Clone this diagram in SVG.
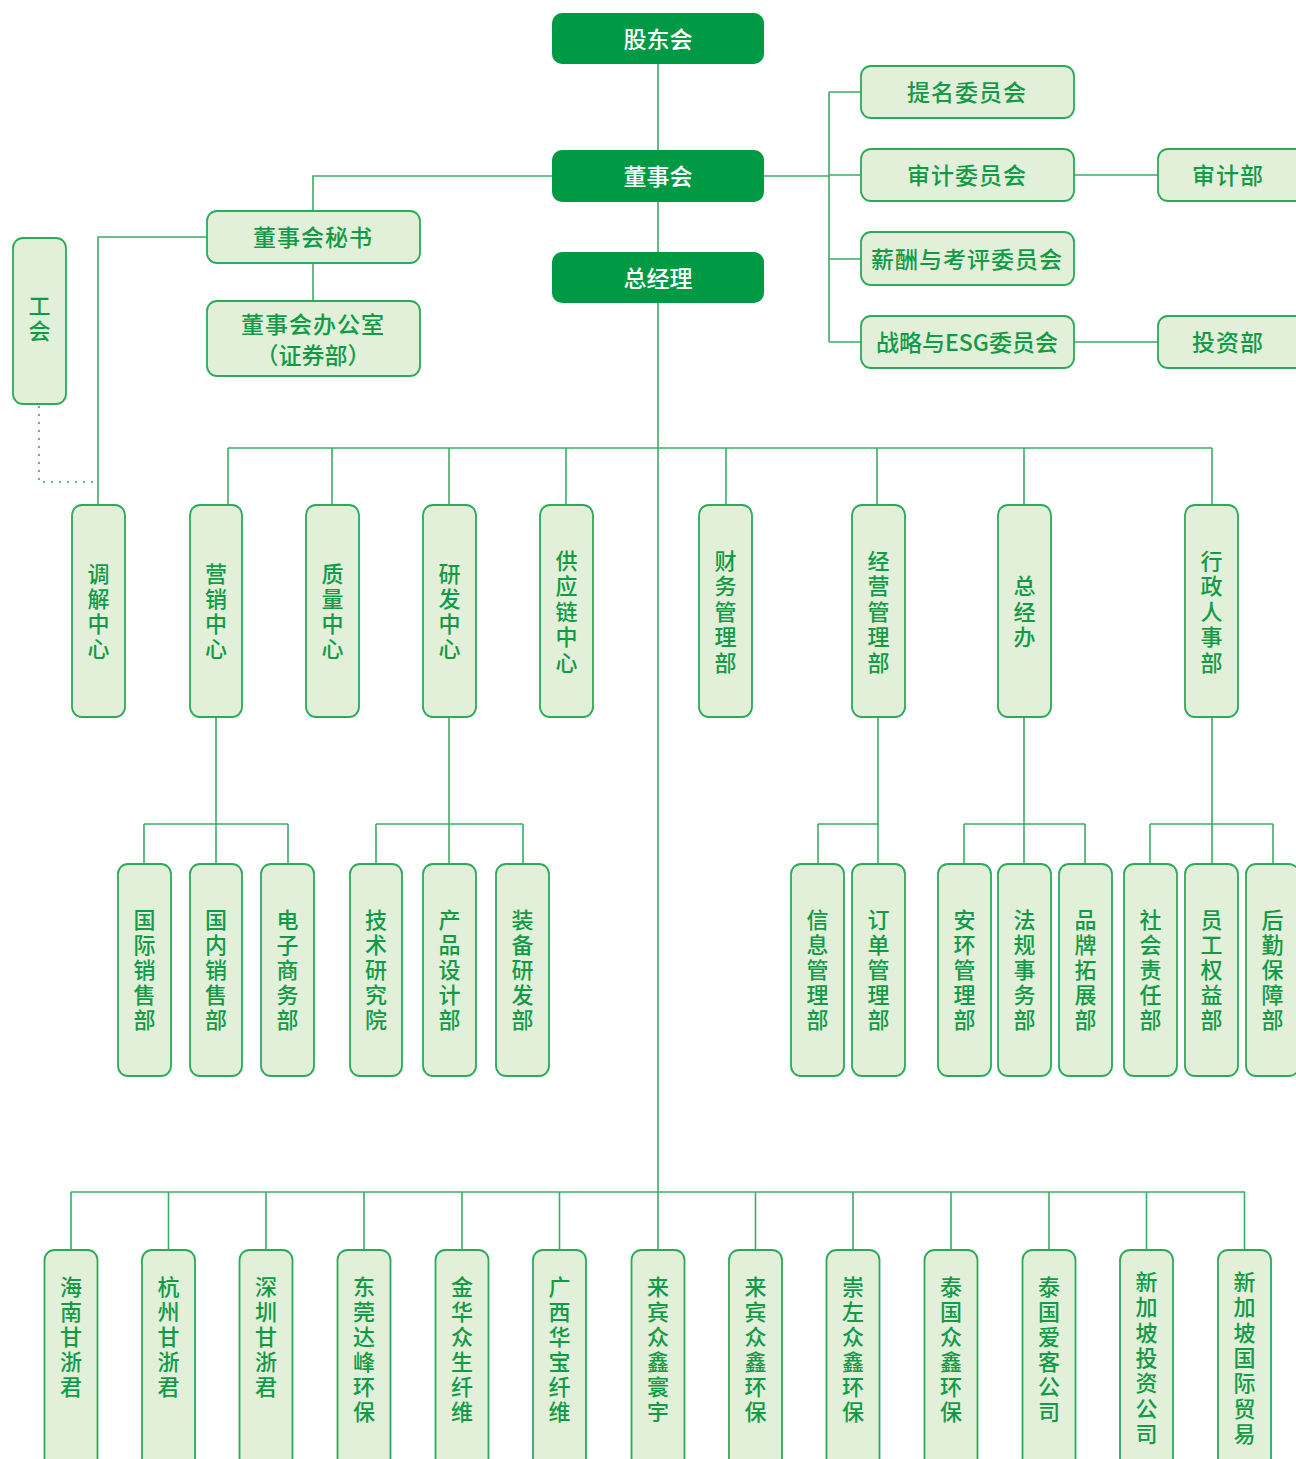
<svg xmlns="http://www.w3.org/2000/svg" width="1296" height="1459" viewBox="0 0 1296 1459">
<style>
.dk{fill:#009A44;}
.lt{fill:#E2EFD9;stroke:#2BAA5A;stroke-width:1.8;}
.ln{fill:none;stroke:#3AAE66;stroke-width:1.6;}
.dot{fill:none;stroke:#2BAA5A;stroke-width:1.6;stroke-dasharray:2 6;}
text{font-family:"Noto Sans CJK SC","Noto Sans",sans-serif;dominant-baseline:central;text-anchor:middle;}
.wt{fill:#FFFFFF;font-size:23px;font-weight:500;}
.gt{fill:#129B47;font-size:23px;font-weight:500;}
.vt{fill:#129B47;font-size:22px;font-weight:500;}
</style>
<rect width="1296" height="1459" fill="#FFFFFF"/>
<g id="connectors">
<path class="ln" d="M658,64V150M658,202V252M658,303V1250"/>
<path class="ln" d="M764,176H829M829,92V342M829,92H861M829,175H861M829,259H861M829,342H861"/>
<path class="ln" d="M1074,175H1158M1074,342H1158"/>
<path class="ln" d="M552,176H313V211M313,263V301M207,237H98V505"/>
<path class="dot" d="M39,406V482H93"/>
<path class="ln" d="M228,448H1212M228,448V505M332,448V505M449,448V505M566,448V505M726,448V505M877,448V505M1024,448V505M1212,448V505"/>
<path class="ln" d="M216,717V864M144,824H288M144,824V864M288,824V864"/>
<path class="ln" d="M449,717V864M376,824H523M376,824V864M523,824V864"/>
<path class="ln" d="M878,717V864M818,824H878M818,824V864"/>
<path class="ln" d="M1024,717V864M964,824H1085M964,824V864M1085,824V864"/>
<path class="ln" d="M1212,717V864M1150,824H1273M1150,824V864M1273,824V864"/>
<path class="ln" d="M71,1192H1245M71,1192V1250M168.5,1192V1250M266,1192V1250M364,1192V1250M462,1192V1250M559.5,1192V1250M755.5,1192V1250M853,1192V1250M951,1192V1250M1049,1192V1250M1146.5,1192V1250M1244.5,1192V1250"/>
</g>
<g id="n-gudonghui"><rect class="dk" x="552" y="13" width="212" height="51" rx="10"/><text class="wt" x="658" y="37.5">股东会</text></g>
<g id="n-dongshihui"><rect class="dk" x="552" y="150" width="212" height="52" rx="10"/><text class="wt" x="658" y="174.5">董事会</text></g>
<g id="n-zongjingli"><rect class="dk" x="552" y="252" width="212" height="51" rx="10"/><text class="wt" x="658" y="276.5">总经理</text></g>
<g id="n-timing"><rect class="lt" x="861" y="66" width="213" height="52" rx="10"/><text class="gt" x="967" y="90.5" letter-spacing="1">提名委员会</text></g>
<g id="n-shenji"><rect class="lt" x="861" y="149" width="213" height="52" rx="10"/><text class="gt" x="967" y="173.5" letter-spacing="1">审计委员会</text></g>
<g id="n-xinchou"><rect class="lt" x="861" y="232" width="213" height="53" rx="10"/><text class="gt" x="967" y="257.5" letter-spacing="1">薪酬与考评委员会</text></g>
<g id="n-zhanlue"><rect class="lt" x="861" y="316" width="213" height="52" rx="10"/><text class="gt" x="967" y="340.5">战略与ESG委员会</text></g>
<g id="n-shenjibu"><rect class="lt" x="1158" y="149" width="150" height="52" rx="10"/><text class="gt" x="1228" y="173.5" letter-spacing="1">审计部</text></g>
<g id="n-touzibu"><rect class="lt" x="1158" y="316" width="150" height="52" rx="10"/><text class="gt" x="1228" y="340.5" letter-spacing="1">投资部</text></g>
<g id="n-mishu"><rect class="lt" x="207" y="211" width="213" height="52" rx="10"/><text class="gt" x="313" y="235.5" letter-spacing="1">董事会秘书</text></g>
<g id="n-bangongshi"><rect class="lt" x="207" y="301" width="213" height="75" rx="10"/><text class="gt" x="313" y="322.5" letter-spacing="1">董事会办公室</text><text class="gt" x="313" y="353.5">（证券部）</text></g>
<g id="n-gonghui"><rect class="lt" x="13" y="238" width="53" height="166" rx="10"/><text class="vt"><tspan x="39.5" y="304">工</tspan><tspan x="39.5" y="329">会</tspan></text></g>

<g id="n-tiaojie"><rect class="lt" x="72" y="505" width="53" height="212" rx="10"/><text class="vt"><tspan x="98.5" y="571.5">调</tspan><tspan x="98.5" y="596.5">解</tspan><tspan x="98.5" y="621.5">中</tspan><tspan x="98.5" y="646.5">心</tspan></text></g>
<g id="n-yingxiao"><rect class="lt" x="190" y="505" width="52" height="212" rx="10"/><text class="vt"><tspan x="216" y="571.5">营</tspan><tspan x="216" y="596.5">销</tspan><tspan x="216" y="621.5">中</tspan><tspan x="216" y="646.5">心</tspan></text></g>
<g id="n-zhiliang"><rect class="lt" x="306" y="505" width="53" height="212" rx="10"/><text class="vt"><tspan x="332.5" y="571.5">质</tspan><tspan x="332.5" y="596.5">量</tspan><tspan x="332.5" y="621.5">中</tspan><tspan x="332.5" y="646.5">心</tspan></text></g>
<g id="n-yanfa"><rect class="lt" x="423" y="505" width="53" height="212" rx="10"/><text class="vt"><tspan x="449.5" y="571.5">研</tspan><tspan x="449.5" y="596.5">发</tspan><tspan x="449.5" y="621.5">中</tspan><tspan x="449.5" y="646.5">心</tspan></text></g>
<g id="n-gongying"><rect class="lt" x="540" y="505" width="53" height="212" rx="10"/><text class="vt"><tspan x="566.5" y="558.5">供</tspan><tspan x="566.5" y="584">应</tspan><tspan x="566.5" y="609.5">链</tspan><tspan x="566.5" y="635">中</tspan><tspan x="566.5" y="660.5">心</tspan></text></g>
<g id="n-caiwu"><rect class="lt" x="699" y="505" width="53" height="212" rx="10"/><text class="vt"><tspan x="725.5" y="558.5">财</tspan><tspan x="725.5" y="584">务</tspan><tspan x="725.5" y="609.5">管</tspan><tspan x="725.5" y="635">理</tspan><tspan x="725.5" y="660.5">部</tspan></text></g>
<g id="n-jingying"><rect class="lt" x="852" y="505" width="53" height="212" rx="10"/><text class="vt"><tspan x="878.5" y="558.5">经</tspan><tspan x="878.5" y="584">营</tspan><tspan x="878.5" y="609.5">管</tspan><tspan x="878.5" y="635">理</tspan><tspan x="878.5" y="660.5">部</tspan></text></g>
<g id="n-zongjingban"><rect class="lt" x="998" y="505" width="53" height="212" rx="10"/><text class="vt"><tspan x="1024.5" y="584">总</tspan><tspan x="1024.5" y="609.5">经</tspan><tspan x="1024.5" y="635">办</tspan></text></g>
<g id="n-xingzheng"><rect class="lt" x="1185" y="505" width="53" height="212" rx="10"/><text class="vt"><tspan x="1211.5" y="558.5">行</tspan><tspan x="1211.5" y="584">政</tspan><tspan x="1211.5" y="609.5">人</tspan><tspan x="1211.5" y="635">事</tspan><tspan x="1211.5" y="660.5">部</tspan></text></g>

<g id="n-guoji"><rect class="lt" x="118" y="864" width="53" height="212" rx="10"/><text class="vt"><tspan x="144.5" y="918">国</tspan><tspan x="144.5" y="943">际</tspan><tspan x="144.5" y="968">销</tspan><tspan x="144.5" y="993">售</tspan><tspan x="144.5" y="1018">部</tspan></text></g>
<g id="n-guonei"><rect class="lt" x="190" y="864" width="52" height="212" rx="10"/><text class="vt"><tspan x="216" y="918">国</tspan><tspan x="216" y="943">内</tspan><tspan x="216" y="968">销</tspan><tspan x="216" y="993">售</tspan><tspan x="216" y="1018">部</tspan></text></g>
<g id="n-dianzi"><rect class="lt" x="261" y="864" width="53" height="212" rx="10"/><text class="vt"><tspan x="287.5" y="918">电</tspan><tspan x="287.5" y="943">子</tspan><tspan x="287.5" y="968">商</tspan><tspan x="287.5" y="993">务</tspan><tspan x="287.5" y="1018">部</tspan></text></g>
<g id="n-jishu"><rect class="lt" x="350" y="864" width="52" height="212" rx="10"/><text class="vt"><tspan x="376" y="918">技</tspan><tspan x="376" y="943">术</tspan><tspan x="376" y="968">研</tspan><tspan x="376" y="993">究</tspan><tspan x="376" y="1018">院</tspan></text></g>
<g id="n-chanpin"><rect class="lt" x="423" y="864" width="53" height="212" rx="10"/><text class="vt"><tspan x="449.5" y="918">产</tspan><tspan x="449.5" y="943">品</tspan><tspan x="449.5" y="968">设</tspan><tspan x="449.5" y="993">计</tspan><tspan x="449.5" y="1018">部</tspan></text></g>
<g id="n-zhuangbei"><rect class="lt" x="496" y="864" width="53" height="212" rx="10"/><text class="vt"><tspan x="522.5" y="918">装</tspan><tspan x="522.5" y="943">备</tspan><tspan x="522.5" y="968">研</tspan><tspan x="522.5" y="993">发</tspan><tspan x="522.5" y="1018">部</tspan></text></g>
<g id="n-xinxi"><rect class="lt" x="791" y="864" width="53" height="212" rx="10"/><text class="vt"><tspan x="817.5" y="918">信</tspan><tspan x="817.5" y="943">息</tspan><tspan x="817.5" y="968">管</tspan><tspan x="817.5" y="993">理</tspan><tspan x="817.5" y="1018">部</tspan></text></g>
<g id="n-dingdan"><rect class="lt" x="852" y="864" width="53" height="212" rx="10"/><text class="vt"><tspan x="878.5" y="918">订</tspan><tspan x="878.5" y="943">单</tspan><tspan x="878.5" y="968">管</tspan><tspan x="878.5" y="993">理</tspan><tspan x="878.5" y="1018">部</tspan></text></g>
<g id="n-anhuan"><rect class="lt" x="938" y="864" width="53" height="212" rx="10"/><text class="vt"><tspan x="964.5" y="918">安</tspan><tspan x="964.5" y="943">环</tspan><tspan x="964.5" y="968">管</tspan><tspan x="964.5" y="993">理</tspan><tspan x="964.5" y="1018">部</tspan></text></g>
<g id="n-fagui"><rect class="lt" x="998" y="864" width="53" height="212" rx="10"/><text class="vt"><tspan x="1024.5" y="918">法</tspan><tspan x="1024.5" y="943">规</tspan><tspan x="1024.5" y="968">事</tspan><tspan x="1024.5" y="993">务</tspan><tspan x="1024.5" y="1018">部</tspan></text></g>
<g id="n-pinpai"><rect class="lt" x="1059" y="864" width="53" height="212" rx="10"/><text class="vt"><tspan x="1085.5" y="918">品</tspan><tspan x="1085.5" y="943">牌</tspan><tspan x="1085.5" y="968">拓</tspan><tspan x="1085.5" y="993">展</tspan><tspan x="1085.5" y="1018">部</tspan></text></g>
<g id="n-shehui"><rect class="lt" x="1124" y="864" width="53" height="212" rx="10"/><text class="vt"><tspan x="1150.5" y="918">社</tspan><tspan x="1150.5" y="943">会</tspan><tspan x="1150.5" y="968">责</tspan><tspan x="1150.5" y="993">任</tspan><tspan x="1150.5" y="1018">部</tspan></text></g>
<g id="n-yuangong"><rect class="lt" x="1185" y="864" width="53" height="212" rx="10"/><text class="vt"><tspan x="1211.5" y="918">员</tspan><tspan x="1211.5" y="943">工</tspan><tspan x="1211.5" y="968">权</tspan><tspan x="1211.5" y="993">益</tspan><tspan x="1211.5" y="1018">部</tspan></text></g>
<g id="n-houqin"><rect class="lt" x="1246" y="864" width="53" height="212" rx="10"/><text class="vt"><tspan x="1272.5" y="918">后</tspan><tspan x="1272.5" y="943">勤</tspan><tspan x="1272.5" y="968">保</tspan><tspan x="1272.5" y="993">障</tspan><tspan x="1272.5" y="1018">部</tspan></text></g>

<g id="n-hainan"><rect class="lt" x="44.5" y="1250" width="53" height="230" rx="10"/><text class="vt"><tspan x="71" y="1285">海</tspan><tspan x="71" y="1310">南</tspan><tspan x="71" y="1335">甘</tspan><tspan x="71" y="1360">浙</tspan><tspan x="71" y="1385">君</tspan></text></g>
<g id="n-hangzhou"><rect class="lt" x="142" y="1250" width="53" height="230" rx="10"/><text class="vt"><tspan x="168.5" y="1285">杭</tspan><tspan x="168.5" y="1310">州</tspan><tspan x="168.5" y="1335">甘</tspan><tspan x="168.5" y="1360">浙</tspan><tspan x="168.5" y="1385">君</tspan></text></g>
<g id="n-shenzhen"><rect class="lt" x="239.5" y="1250" width="53" height="230" rx="10"/><text class="vt"><tspan x="266" y="1285">深</tspan><tspan x="266" y="1310">圳</tspan><tspan x="266" y="1335">甘</tspan><tspan x="266" y="1360">浙</tspan><tspan x="266" y="1385">君</tspan></text></g>
<g id="n-dongguan"><rect class="lt" x="337.5" y="1250" width="53" height="230" rx="10"/><text class="vt"><tspan x="364" y="1285">东</tspan><tspan x="364" y="1310">莞</tspan><tspan x="364" y="1335">达</tspan><tspan x="364" y="1360">峰</tspan><tspan x="364" y="1385">环</tspan><tspan x="364" y="1410">保</tspan></text></g>
<g id="n-jinhua"><rect class="lt" x="435.5" y="1250" width="53" height="230" rx="10"/><text class="vt"><tspan x="462" y="1285">金</tspan><tspan x="462" y="1310">华</tspan><tspan x="462" y="1335">众</tspan><tspan x="462" y="1360">生</tspan><tspan x="462" y="1385">纤</tspan><tspan x="462" y="1410">维</tspan></text></g>
<g id="n-guangxi"><rect class="lt" x="533" y="1250" width="53" height="230" rx="10"/><text class="vt"><tspan x="559.5" y="1285">广</tspan><tspan x="559.5" y="1310">西</tspan><tspan x="559.5" y="1335">华</tspan><tspan x="559.5" y="1360">宝</tspan><tspan x="559.5" y="1385">纤</tspan><tspan x="559.5" y="1410">维</tspan></text></g>
<g id="n-laibin1"><rect class="lt" x="631.5" y="1250" width="53" height="230" rx="10"/><text class="vt"><tspan x="658" y="1285">来</tspan><tspan x="658" y="1310">宾</tspan><tspan x="658" y="1335">众</tspan><tspan x="658" y="1360">鑫</tspan><tspan x="658" y="1385">寰</tspan><tspan x="658" y="1410">宇</tspan></text></g>
<g id="n-laibin2"><rect class="lt" x="729" y="1250" width="53" height="230" rx="10"/><text class="vt"><tspan x="755.5" y="1285">来</tspan><tspan x="755.5" y="1310">宾</tspan><tspan x="755.5" y="1335">众</tspan><tspan x="755.5" y="1360">鑫</tspan><tspan x="755.5" y="1385">环</tspan><tspan x="755.5" y="1410">保</tspan></text></g>
<g id="n-chongzuo"><rect class="lt" x="826.5" y="1250" width="53" height="230" rx="10"/><text class="vt"><tspan x="853" y="1285">崇</tspan><tspan x="853" y="1310">左</tspan><tspan x="853" y="1335">众</tspan><tspan x="853" y="1360">鑫</tspan><tspan x="853" y="1385">环</tspan><tspan x="853" y="1410">保</tspan></text></g>
<g id="n-taiguo1"><rect class="lt" x="924.5" y="1250" width="53" height="230" rx="10"/><text class="vt"><tspan x="951" y="1285">泰</tspan><tspan x="951" y="1310">国</tspan><tspan x="951" y="1335">众</tspan><tspan x="951" y="1360">鑫</tspan><tspan x="951" y="1385">环</tspan><tspan x="951" y="1410">保</tspan></text></g>
<g id="n-taiguo2"><rect class="lt" x="1022.5" y="1250" width="53" height="230" rx="10"/><text class="vt"><tspan x="1049" y="1285">泰</tspan><tspan x="1049" y="1310">国</tspan><tspan x="1049" y="1335">爱</tspan><tspan x="1049" y="1360">客</tspan><tspan x="1049" y="1385">公</tspan><tspan x="1049" y="1410">司</tspan></text></g>
<g id="n-xinjiapo1"><rect class="lt" x="1120" y="1250" width="53" height="230" rx="10"/><text class="vt"><tspan x="1146.5" y="1280">新</tspan><tspan x="1146.5" y="1305.3">加</tspan><tspan x="1146.5" y="1330.6">坡</tspan><tspan x="1146.5" y="1356">投</tspan><tspan x="1146.5" y="1381.3">资</tspan><tspan x="1146.5" y="1406.6">公</tspan><tspan x="1146.5" y="1432">司</tspan></text></g>
<g id="n-xinjiapo2"><rect class="lt" x="1218" y="1250" width="53" height="230" rx="10"/><text class="vt"><tspan x="1244.5" y="1280">新</tspan><tspan x="1244.5" y="1305.3">加</tspan><tspan x="1244.5" y="1330.6">坡</tspan><tspan x="1244.5" y="1356">国</tspan><tspan x="1244.5" y="1381.3">际</tspan><tspan x="1244.5" y="1406.6">贸</tspan><tspan x="1244.5" y="1432">易</tspan></text></g>
</svg>
